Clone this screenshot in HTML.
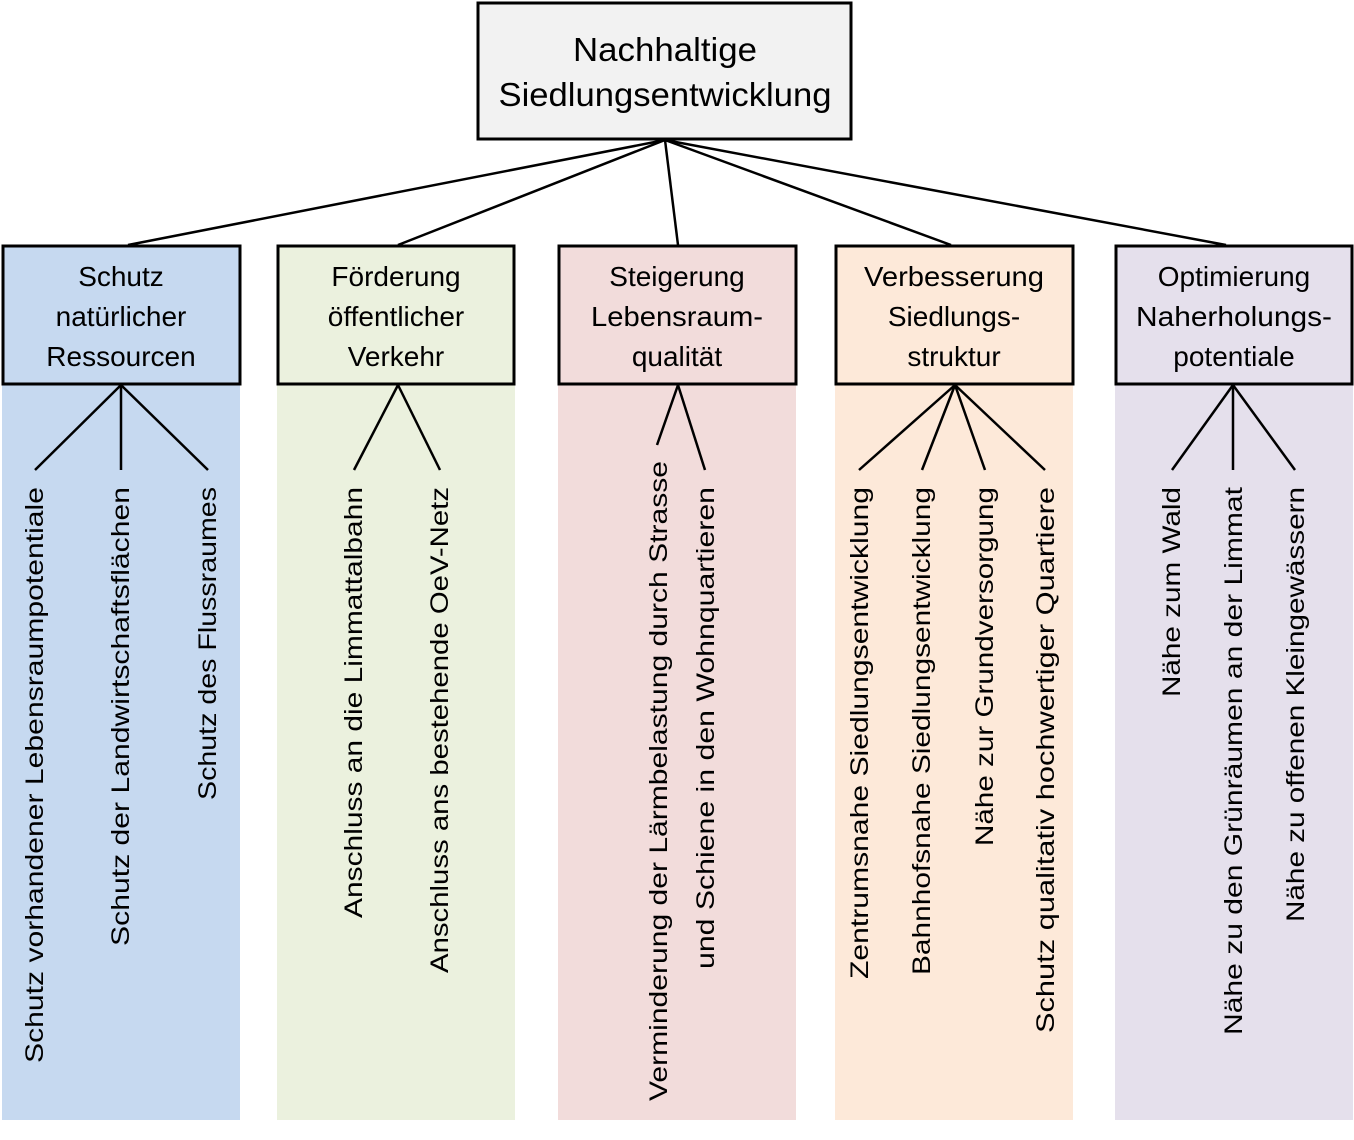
<!DOCTYPE html>
<html><head><meta charset="utf-8"><style>html,body{margin:0;padding:0;background:#fff}svg{display:block}</style></head>
<body>
<svg width="1354" height="1140" viewBox="0 0 1354 1140" xmlns="http://www.w3.org/2000/svg" font-family="Liberation Sans, sans-serif" fill="#000">
<g stroke="none">
<rect x="2" y="385" width="238" height="735" fill="#c6d9f0"/>
<rect x="277" y="385" width="238" height="735" fill="#ebf1de"/>
<rect x="558" y="385" width="238" height="735" fill="#f2dcdb"/>
<rect x="835" y="385" width="238" height="735" fill="#fde9d9"/>
<rect x="1115" y="385" width="238" height="735" fill="#e5e0ec"/>
</g>
<g stroke="#000" stroke-width="2.5" fill="none">
<line x1="665" y1="140" x2="128" y2="245"/>
<line x1="665" y1="140" x2="398" y2="245"/>
<line x1="665" y1="140" x2="678" y2="245"/>
<line x1="665" y1="140" x2="951" y2="245"/>
<line x1="665" y1="140" x2="1226" y2="245"/>
<line x1="121" y1="385" x2="35" y2="470"/>
<line x1="121" y1="385" x2="121" y2="470"/>
<line x1="121" y1="385" x2="208" y2="470"/>
<line x1="398" y1="385" x2="354" y2="470"/>
<line x1="398" y1="385" x2="440" y2="470"/>
<line x1="678" y1="385" x2="657" y2="445"/>
<line x1="678" y1="385" x2="705" y2="470"/>
<line x1="955" y1="385" x2="859" y2="470"/>
<line x1="955" y1="385" x2="922" y2="470"/>
<line x1="955" y1="385" x2="985" y2="470"/>
<line x1="955" y1="385" x2="1045" y2="470"/>
<line x1="1233" y1="385" x2="1172" y2="470"/>
<line x1="1233" y1="385" x2="1233" y2="470"/>
<line x1="1233" y1="385" x2="1295" y2="470"/>
</g>
<g stroke="#000" stroke-width="3">
<rect x="478" y="3" width="373" height="136" fill="#f2f2f2"/>
<rect x="3" y="246" width="237" height="138" fill="#c6d9f0"/>
<rect x="278" y="246" width="236" height="138" fill="#ebf1de"/>
<rect x="559" y="246" width="237" height="138" fill="#f2dcdb"/>
<rect x="836" y="246" width="237" height="138" fill="#fde9d9"/>
<rect x="1116" y="246" width="236" height="138" fill="#e5e0ec"/>
</g>
<g text-anchor="middle" font-size="33">
<text x="665" y="61" textLength="184" lengthAdjust="spacingAndGlyphs">Nachhaltige</text>
<text x="665" y="106" textLength="333" lengthAdjust="spacingAndGlyphs">Siedlungsentwicklung</text>
</g>
<g text-anchor="middle" font-size="28">
<text x="121" y="286">Schutz</text><text x="121" y="326">natürlicher</text><text x="121" y="366">Ressourcen</text>
<text x="396" y="286">Förderung</text><text x="396" y="326">öffentlicher</text><text x="396" y="366">Verkehr</text>
<text x="677" y="286">Steigerung</text><text x="677" y="326" textLength="172" lengthAdjust="spacingAndGlyphs">Lebensraum-</text><text x="677" y="366">qualität</text>
<text x="954" y="286" textLength="180" lengthAdjust="spacingAndGlyphs">Verbesserung</text><text x="954" y="326">Siedlungs-</text><text x="954" y="366">struktur</text>
<text x="1234" y="286">Optimierung</text><text x="1234" y="326" textLength="196" lengthAdjust="spacingAndGlyphs">Naherholungs-</text><text x="1234" y="366">potentiale</text>
</g>
<g text-anchor="end" font-size="25" dominant-baseline="central">
<text transform="translate(35,487) rotate(-90)" textLength="576" lengthAdjust="spacingAndGlyphs">Schutz vorhandener Lebensraumpotentiale</text>
<text transform="translate(121,487) rotate(-90)" textLength="459" lengthAdjust="spacingAndGlyphs">Schutz der Landwirtschaftsflächen</text>
<text transform="translate(208,487) rotate(-90)" textLength="313" lengthAdjust="spacingAndGlyphs">Schutz des Flussraumes</text>
<text transform="translate(354,487) rotate(-90)" textLength="431" lengthAdjust="spacingAndGlyphs">Anschluss an die Limmattalbahn</text>
<text transform="translate(440,487) rotate(-90)" textLength="486" lengthAdjust="spacingAndGlyphs">Anschluss ans bestehende OeV-Netz</text>
<text transform="translate(659,461) rotate(-90)" textLength="640" lengthAdjust="spacingAndGlyphs">Verminderung der Lärmbelastung durch Strasse</text>
<text transform="translate(706,487) rotate(-90)" textLength="482" lengthAdjust="spacingAndGlyphs">und Schiene in den Wohnquartieren</text>
<text transform="translate(860,487) rotate(-90)" textLength="492" lengthAdjust="spacingAndGlyphs">Zentrumsnahe Siedlungsentwicklung</text>
<text transform="translate(922,487) rotate(-90)" textLength="488" lengthAdjust="spacingAndGlyphs">Bahnhofsnahe Siedlungsentwicklung</text>
<text transform="translate(985,487) rotate(-90)" textLength="359" lengthAdjust="spacingAndGlyphs">Nähe zur Grundversorgung</text>
<text transform="translate(1046,487) rotate(-90)" textLength="546" lengthAdjust="spacingAndGlyphs">Schutz qualitativ hochwertiger Quartiere</text>
<text transform="translate(1172,487) rotate(-90)" textLength="210" lengthAdjust="spacingAndGlyphs">Nähe zum Wald</text>
<text transform="translate(1234,487) rotate(-90)" textLength="548" lengthAdjust="spacingAndGlyphs">Nähe zu den Grünräumen an der Limmat</text>
<text transform="translate(1296,487) rotate(-90)" textLength="435" lengthAdjust="spacingAndGlyphs">Nähe zu offenen Kleingewässern</text>
</g>
</svg>
</body></html>
